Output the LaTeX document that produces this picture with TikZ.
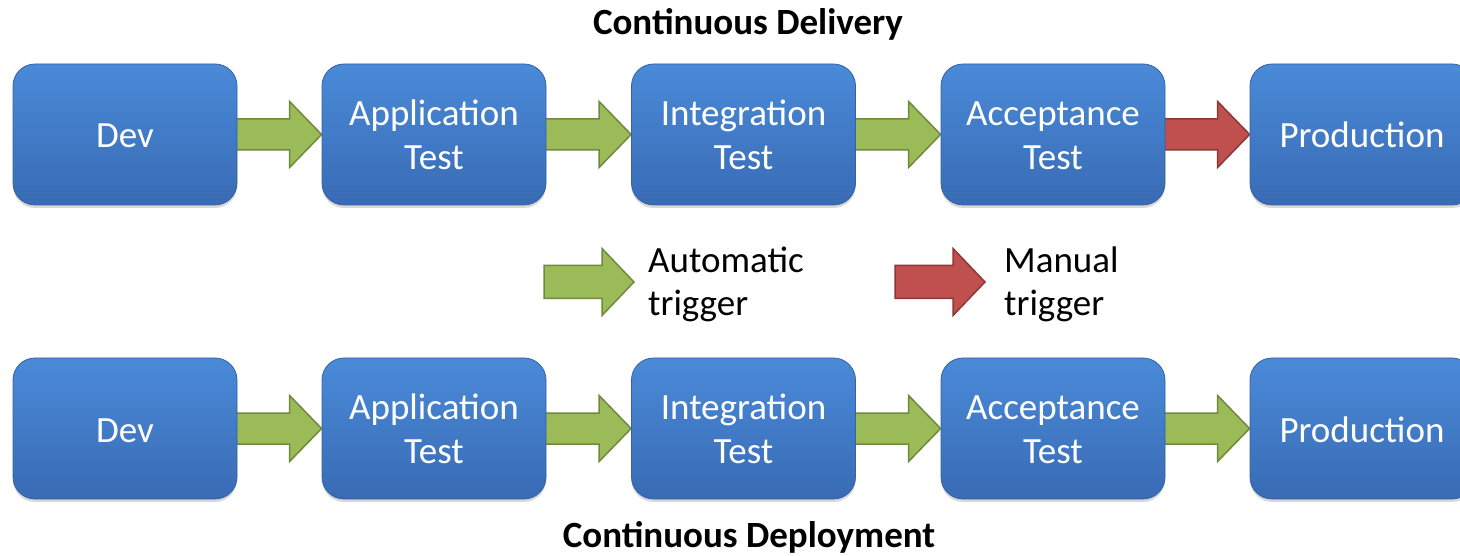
\documentclass[tikz,border=0pt]{standalone}
\usepackage{fontspec}
\setmainfont{Carlito}
\usetikzlibrary{calc,shadows,backgrounds}
\definecolor{boxtop}{RGB}{74,138,216}
\definecolor{boxbot}{RGB}{57,107,180}
\definecolor{boxedge}{RGB}{52,98,165}
\definecolor{agreen}{RGB}{155,187,89}
\definecolor{agreenedge}{RGB}{113,137,63}
\definecolor{ared}{RGB}{192,80,77}
\definecolor{arededge}{RGB}{140,56,54}
\newcommand\twolines[2]{\vbox{\baselineskip=44pt\lineskiplimit=-1000pt\hbox to 210pt{\hfil#1\hfil}\hbox to 210pt{\hfil#2\hfil}}}
\newcommand\legendlines[2]{\vbox{\baselineskip=43pt\lineskiplimit=-1000pt\hbox{#1}\hbox{#2}}}
\newcommand\flowarrow[3]{\path[#3] let \p1=(#1.east), \p2=(#2.west) in (\x1-3pt,\y1+15.5pt) -- (\x2-32pt,\y1+15.5pt) -- (\x2-32pt,\y1+33pt) -- (\x2,\y1) -- (\x2-32pt,\y1-33pt) -- (\x2-32pt,\y1-15.5pt) -- (\x1-3pt,\y1-15.5pt) -- cycle;}
\newcommand\legendarrow[2]{\path[#2] (#1) ++(0,16.5) -- ++(58,0) -- ++(0,17) -- ++(32,-33.5) -- ++(-32,-33.5) -- ++(0,17) -- ++(-58,0) -- cycle;}
\tikzset{
 stage/.style={rounded corners=22pt, minimum width=224pt, minimum height=141pt, inner sep=0pt,
   top color=boxtop, bottom color=boxbot, draw=boxedge, line width=0.8pt, text=white,
   font=\fontsize{37}{39}\selectfont,
   drop shadow={shadow xshift=0pt,shadow yshift=-3pt,opacity=0.3}},
 oneline/.style={text height=27pt, text depth=0pt},
 twoline/.style={text height=70pt, text depth=0pt},
 autoarrow/.style={fill=agreen, draw=agreenedge, line width=1.5pt},
 manarrow/.style={fill=ared, draw=arededge, line width=1.5pt},
 title/.style={font=\fontsize{37}{39}\selectfont\bfseries, anchor=base, inner sep=0pt},
 legendtext/.style={font=\fontsize{37}{39}\selectfont, anchor=base west, inner sep=0pt},
}
\begin{document}
\begin{tikzpicture}[x=1pt,y=1pt]
\useasboundingbox (0,0) rectangle (1460,555);
% titles
\node[title] (t1) at (748,520) {Continuous Delivery};
\node[title] (t2) at (749,8) {Continuous Deployment};
% row 1
\node[stage,oneline] (a1) at (125,420.5) {Dev};
\node[stage,twoline] (a2) at (434,420.5) {\twolines{Application}{Test}};
\node[stage,twoline] (a3) at (743.5,420.5) {\twolines{Integration}{Test}};
\node[stage,twoline] (a4) at (1053,420.5) {\twolines{Acceptance}{Test}};
\node[stage,oneline] (a5) at (1362,420.5) {Production};
% row 2
\node[stage,oneline] (b1) at (125,126.5) {Dev};
\node[stage,twoline] (b2) at (434,126.5) {\twolines{Application}{Test}};
\node[stage,twoline] (b3) at (743.5,126.5) {\twolines{Integration}{Test}};
\node[stage,twoline] (b4) at (1053,126.5) {\twolines{Acceptance}{Test}};
\node[stage,oneline] (b5) at (1362,126.5) {Production};
% legend
\coordinate (lg) at (544,273);
\coordinate (lr) at (895,273);
\node[legendtext] (lgt) at (648,239) {\legendlines{Automatic}{trigger}};
\node[legendtext] (lrt) at (1004,239) {\legendlines{Manual}{trigger}};
\legendarrow{lg}{autoarrow}
\legendarrow{lr}{manarrow}
\begin{scope}[on background layer]
\flowarrow{a1}{a2}{autoarrow}
\flowarrow{a2}{a3}{autoarrow}
\flowarrow{a3}{a4}{autoarrow}
\flowarrow{a4}{a5}{manarrow}
\flowarrow{b1}{b2}{autoarrow}
\flowarrow{b2}{b3}{autoarrow}
\flowarrow{b3}{b4}{autoarrow}
\flowarrow{b4}{b5}{autoarrow}
\end{scope}
\end{tikzpicture}
\end{document}
